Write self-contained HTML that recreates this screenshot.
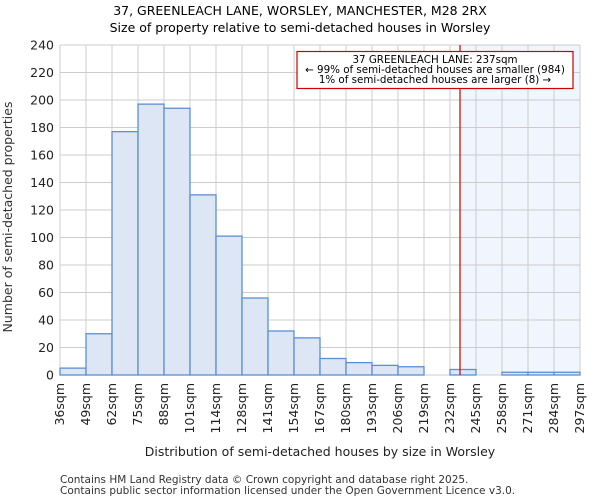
<!DOCTYPE html>
<html><head><meta charset="utf-8"><style>
body{margin:0;background:#fff;font-family:"DejaVu Sans","Liberation Sans",sans-serif;}
</style></head><body>
<svg width="600" height="500" viewBox="0 0 600 500" font-family="DejaVu Sans, Liberation Sans, sans-serif">
<g id="root"></g>
</svg>
<script>
const binStarts=[36,49,62,75,88,101,114,128,141,154,167,180,193,206,219,232,245,258,271,284,297];
const counts=[5,30,177,197,194,131,101,56,32,27,12,9,7,6,0,4,0,2,2,2];
const yTicks=[0,20,40,60,80,100,120,140,160,180,200,220,240];
const xLabels=["36sqm","49sqm","62sqm","75sqm","88sqm","101sqm","114sqm","128sqm","141sqm","154sqm","167sqm","180sqm","193sqm","206sqm","219sqm","232sqm","245sqm","258sqm","271sqm","284sqm","297sqm"];
const propertySize=[237];
const L=60,R=580,T=45,B=375,NS="http://www.w3.org/2000/svg";
const nb=counts.length;
const xi=i=>L+(R-L)*i/nb;
const xv=v=>{let i=0;while(i<nb-1&&v>binStarts[i+1])i++;return xi(i)+(v-binStarts[i])/(binStarts[i+1]-binStarts[i])*(R-L)/nb;};
const y=v=>B-(B-T)*v/240;
const root=document.getElementById('root');
function el(t,a,txt){const e=document.createElementNS(NS,t);for(const k in a)e.setAttribute(k,a[k]);if(txt!==undefined)e.textContent=txt;root.appendChild(e);return e;}
let e;
e=el('rect',{x:xv(propertySize[0]),y:T,width:R-xv(propertySize[0]),height:B-T,fill:'#f1f5fd'});


for(let i=0;i<=nb;i++){e=el('line',{x1:xi(i),x2:xi(i),y1:T,y2:B,stroke:'#cccccc','stroke-width':1});

}
yTicks.forEach(t=>{e=el('line',{x1:L,x2:R,y1:y(t),y2:y(t),stroke:'#cccccc','stroke-width':1});


e=el('text',{x:L-6,y:y(t)+4.5,'text-anchor':'end','font-size':12.5,fill:'#222'},t);

});
counts.forEach((c,i)=>{if(c<=0)return;e=el('rect',{x:xi(i),y:y(c),width:xi(i+1)-xi(i),height:B-y(c),fill:'#dce6f4',stroke:'#5b8fd6','stroke-width':1.3});

});
xLabels.forEach((s,i)=>{const x=xi(i)+4;e=el('text',{x:0,y:0,transform:`translate(${x},${B+8}) rotate(-90)`,'text-anchor':'end','font-size':12.5,fill:'#222'},s);

});
e=el('line',{x1:xv(propertySize[0]),x2:xv(propertySize[0]),y1:T,y2:B,stroke:'#cc0000','stroke-width':1.2});


e=el('rect',{x:297,y:51.5,width:276,height:37,fill:'#fff',stroke:'#cc0000','stroke-width':1.2});


[['37 GREENLEACH LANE: 237sqm',62],['← 99% of semi-detached houses are smaller (984)',72],['1% of semi-detached houses are larger (8) →',82]].forEach(a=>{e=el('text',{x:435,y:a[1]+1,'text-anchor':'middle','font-size':10.3,fill:'#000'},a[0]);

});
e=el('text',{x:300,y:15,'text-anchor':'middle','font-size':12.5,fill:'#000'},'37, GREENLEACH LANE, WORSLEY, MANCHESTER, M28 2RX');


e=el('text',{x:300,y:32,'text-anchor':'middle','font-size':12.5,fill:'#000'},'Size of property relative to semi-detached houses in Worsley');


e=el('text',{x:0,y:0,transform:'translate(12,217) rotate(-90)','text-anchor':'middle','font-size':12.5,fill:'#333'},'Number of semi-detached properties');


e=el('text',{x:320,y:456,'text-anchor':'middle','font-size':12.5,fill:'#222'},'Distribution of semi-detached houses by size in Worsley');


e=el('text',{x:60,y:483,'font-size':10.5,fill:'#333'},'Contains HM Land Registry data © Crown copyright and database right 2025.');


e=el('text',{x:60,y:494,'font-size':10.5,fill:'#333'},'Contains public sector information licensed under the Open Government Licence v3.0.');


</script>
</body></html>
